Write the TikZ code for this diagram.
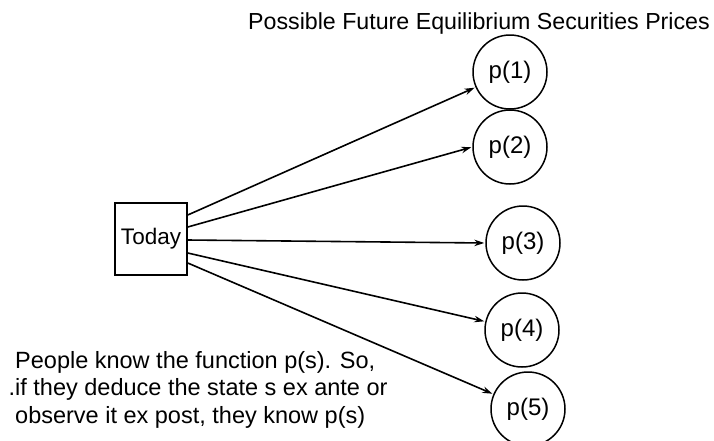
\documentclass[tikz,border=0pt]{standalone}
\usepackage{fontspec}
\setmainfont{Liberation Sans}
\usetikzlibrary{arrows.meta}

\begin{document}
\begin{tikzpicture}
  [x=1pt,y=-1pt,
   every node/.style={font=\fontsize{23.5}{27.5}\selectfont},
   price/.style={draw,circle,line width=1.5pt,minimum size=74pt,inner sep=0pt,
                 font=\fontsize{24}{28}\selectfont},
   nowbox/.style={draw,rectangle,line width=1.5pt,minimum width=72pt,minimum height=72pt,
                  inner sep=0pt,font=\fontsize{22.5}{27}\selectfont}]

  \useasboundingbox (0,0) rectangle (714,440);

  \node[nowbox] (today) at (151,239) {Today};

  \node[price] (p1) at (510,72)  {p(1)};
  \node[price] (p2) at (510,147) {p(2)};
  \node[price] (p3) at (523,243) {p(3)};
  \node[price] (p4) at (522,330) {p(4)};
  \node[price] (p5) at (528,409) {p(5)};

  \coordinate (t1) at ([yshift=24pt]today.east);
  \coordinate (t2) at ([yshift=12pt]today.east);
  \coordinate (t3) at ([yshift=-1pt]today.east);
  \coordinate (t4) at ([yshift=-14pt]today.east);
  \coordinate (t5) at ([yshift=-24pt]today.east);

  \path[->, >={Stealth[length=10pt,width=6.5pt]}, line width=1.6pt, shorten > = 1pt]
        (t1) edge (p1)
        (t2) edge (p2.west)
        (t3) edge (p3.west)
        (t4) edge (p4)
        (t5) edge (p5);

  \node[anchor=base east,inner sep=0pt,font=\fontsize{23.2}{27}\selectfont] (title) at (710,29)
        {Possible Future Equilibrium Securities Prices};

  \node[anchor=north west,align=left,inner sep=0pt] (note) at (15,351)
        {People know the function p(s). So,\\
         \llap{.}if they deduce the state s ex ante or\\
         observe it ex post, they know p(s)};
\end{tikzpicture}
\end{document}
